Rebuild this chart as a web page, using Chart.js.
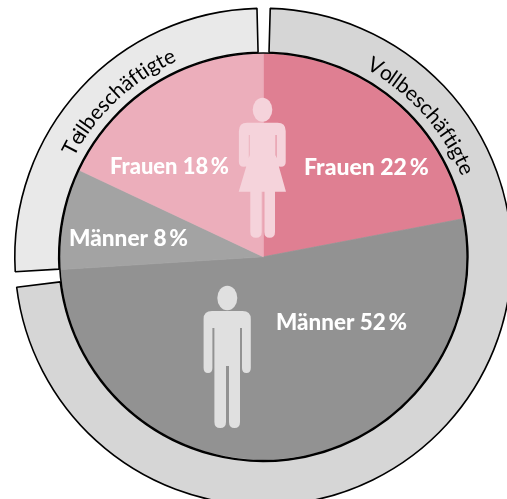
<!DOCTYPE html>
<html lang="de">
<head>
<meta charset="utf-8">
<title>Beschäftigte nach Geschlecht</title>
<style>html,body{margin:0;padding:0;background:#fff;overflow:hidden}canvas{display:block}</style>
<script src="https://cdn.jsdelivr.net/npm/chart.js@4"></script>
</head>
<body>
<canvas id="c" width="507" height="499"></canvas>
<script>
// Inner pie, clockwise from 12 o'clock
const sliceNames = ['Frauen', 'Männer', 'Männer', 'Frauen'];
const sliceValues = [22, 52, 8, 18];
const sliceColors = ['#DF7F92', '#929292', '#A3A3A3', '#ECAEBB'];
// Outer ring: the two groups, separated by small blank gaps
const ringNames = ['Vollbeschäftigte', '', 'Teilbeschäftigte', ''];
const ringValues = [72.6, 1.0, 25.55, 0.85];
const ringColors = ['#D6D6D6', 'rgba(0,0,0,0)', '#E9E9E9', 'rgba(0,0,0,0)'];
const ringBorders = ['#000', 'rgba(0,0,0,0)', '#000', 'rgba(0,0,0,0)'];
const ringBorderWidths = [1.6, 0, 1.6, 0];

// Text placement
const sliceLabelAnchors = [[304, 175], [276, 330], [69, 245.5], [110, 174]];
const sliceLabelWidths = [126, 131, 119, 119];
const ringLabelPlaces = [
  {text: ringNames[0], mid: 48.3, r: 214},
  {text: ringNames[2], mid: -43, r: 214}
];

const C = {x: 263.3, y: 256.8};

function drawMan(ctx) {
  ctx.fillStyle = '#E0E0E0';
  ctx.beginPath();
  ctx.ellipse(227.3, 298, 10, 12.2, 0, 0, Math.PI * 2);
  ctx.fill();
  ctx.beginPath();
  ctx.moveTo(203.6, 319);
  ctx.quadraticCurveTo(203.6, 311, 212, 311);
  ctx.lineTo(242.5, 311);
  ctx.quadraticCurveTo(250.8, 311, 250.8, 319);
  ctx.lineTo(250.8, 368);
  ctx.quadraticCurveTo(250.8, 373, 246.4, 373);
  ctx.quadraticCurveTo(242, 373, 242, 368);
  ctx.lineTo(242, 328);
  ctx.lineTo(240, 328);
  ctx.lineTo(240, 422);
  ctx.quadraticCurveTo(240, 428, 234.5, 428);
  ctx.quadraticCurveTo(229, 428, 229, 422);
  ctx.lineTo(229, 366);
  ctx.lineTo(226, 366);
  ctx.lineTo(226, 422);
  ctx.quadraticCurveTo(226, 428, 220.2, 428);
  ctx.quadraticCurveTo(214.4, 428, 214.4, 422);
  ctx.lineTo(214.4, 328);
  ctx.lineTo(212.4, 328);
  ctx.lineTo(212.4, 368);
  ctx.quadraticCurveTo(212.4, 373, 208, 373);
  ctx.quadraticCurveTo(203.6, 373, 203.6, 368);
  ctx.closePath();
  ctx.fill();
}

function drawWoman(ctx) {
  ctx.fillStyle = '#F5D3DB';
  ctx.beginPath();
  ctx.ellipse(262.5, 109.7, 9.8, 12, 0, 0, Math.PI * 2);
  ctx.fill();
  ctx.beginPath();
  ctx.moveTo(238.9, 131);
  ctx.quadraticCurveTo(238.9, 122.7, 247, 122.7);
  ctx.lineTo(277.5, 122.7);
  ctx.quadraticCurveTo(285.7, 122.7, 285.7, 131);
  ctx.lineTo(285.7, 162);
  ctx.quadraticCurveTo(285.7, 166.8, 281, 166.8);
  ctx.quadraticCurveTo(276.5, 166.8, 276.5, 162);
  ctx.lineTo(276.5, 135);
  ctx.lineTo(275.6, 135);
  ctx.lineTo(275.6, 155);
  ctx.lineTo(286, 191.7);
  ctx.lineTo(275, 191.7);
  ctx.lineTo(275, 232);
  ctx.quadraticCurveTo(275, 237.8, 269.6, 237.8);
  ctx.quadraticCurveTo(264.3, 237.8, 264.3, 232);
  ctx.lineTo(264.3, 191.7);
  ctx.lineTo(261.7, 191.7);
  ctx.lineTo(261.7, 232);
  ctx.quadraticCurveTo(261.7, 237.8, 256, 237.8);
  ctx.quadraticCurveTo(250.3, 237.8, 250.3, 232);
  ctx.lineTo(250.3, 191.7);
  ctx.lineTo(238.7, 191.7);
  ctx.lineTo(249.7, 155);
  ctx.lineTo(249.7, 135);
  ctx.lineTo(248.8, 135);
  ctx.lineTo(248.8, 162);
  ctx.quadraticCurveTo(248.8, 166.8, 243.8, 166.8);
  ctx.quadraticCurveTo(238.9, 166.8, 238.9, 162);
  ctx.closePath();
  ctx.fill();
}

function drawArcText(ctx, text, midDeg, r) {
  ctx.save();
  ctx.font = '400 21px Lato';
  ctx.fillStyle = '#000';
  ctx.textBaseline = 'alphabetic';
  ctx.textAlign = 'left';
  const total = ctx.measureText(text).width;
  let prefix = '';
  const start = midDeg * Math.PI / 180 - total / 2 / r;
  for (const ch of text) {
    const adv = ctx.measureText(prefix).width;
    const a = start + adv / r;
    ctx.save();
    ctx.translate(C.x + r * Math.sin(a), C.y - r * Math.cos(a));
    ctx.rotate(a);
    ctx.fillText(ch, 0, 0);
    ctx.restore();
    prefix += ch;
  }
  ctx.restore();
}

const overlay = {
  id: 'overlay',
  afterDatasetsDraw(chart) {
    const ctx = chart.ctx;
    ctx.save();
    drawWoman(ctx);
    drawMan(ctx);
    ctx.font = '900 23px Lato';
    ctx.fillStyle = '#fff';
    ctx.textAlign = 'left';
    ctx.textBaseline = 'alphabetic';
    sliceNames.forEach((n, i) => {
      const [x, y] = sliceLabelAnchors[i];
      ctx.fillText(n + ' ' + sliceValues[i] + '\u2009%', x, y, sliceLabelWidths[i]);
    });
    ringLabelPlaces.forEach(p => drawArcText(ctx, p.text, p.mid, p.r));
    ctx.restore();
  }
};

new Chart(document.getElementById('c'), {
  type: 'doughnut',
  data: {
    labels: sliceNames,
    datasets: [
      {data: ringValues, backgroundColor: ringColors, borderColor: ringBorders,
       borderWidth: ringBorderWidths, borderAlign: 'center', rotation: 1.6,
       weight: 43.9, clip: false},
      {data: [1], backgroundColor: ['#000'], borderWidth: 0, weight: 1.6, clip: false},
      {data: sliceValues, backgroundColor: sliceColors, borderColor: sliceColors,
       borderWidth: 0.7, borderAlign: 'center', weight: 203, clip: false}
    ]
  },
  options: {
    responsive: false,
    animation: false,
    cutout: 0,
    radius: 248.5,
    layout: {padding: {left: 19.6, right: 0, top: 14.6, bottom: 0}},
    plugins: {legend: {display: false}, tooltip: {enabled: false}, title: {display: false}}
  },
  plugins: [overlay]
});
</script>
</body>
</html>
